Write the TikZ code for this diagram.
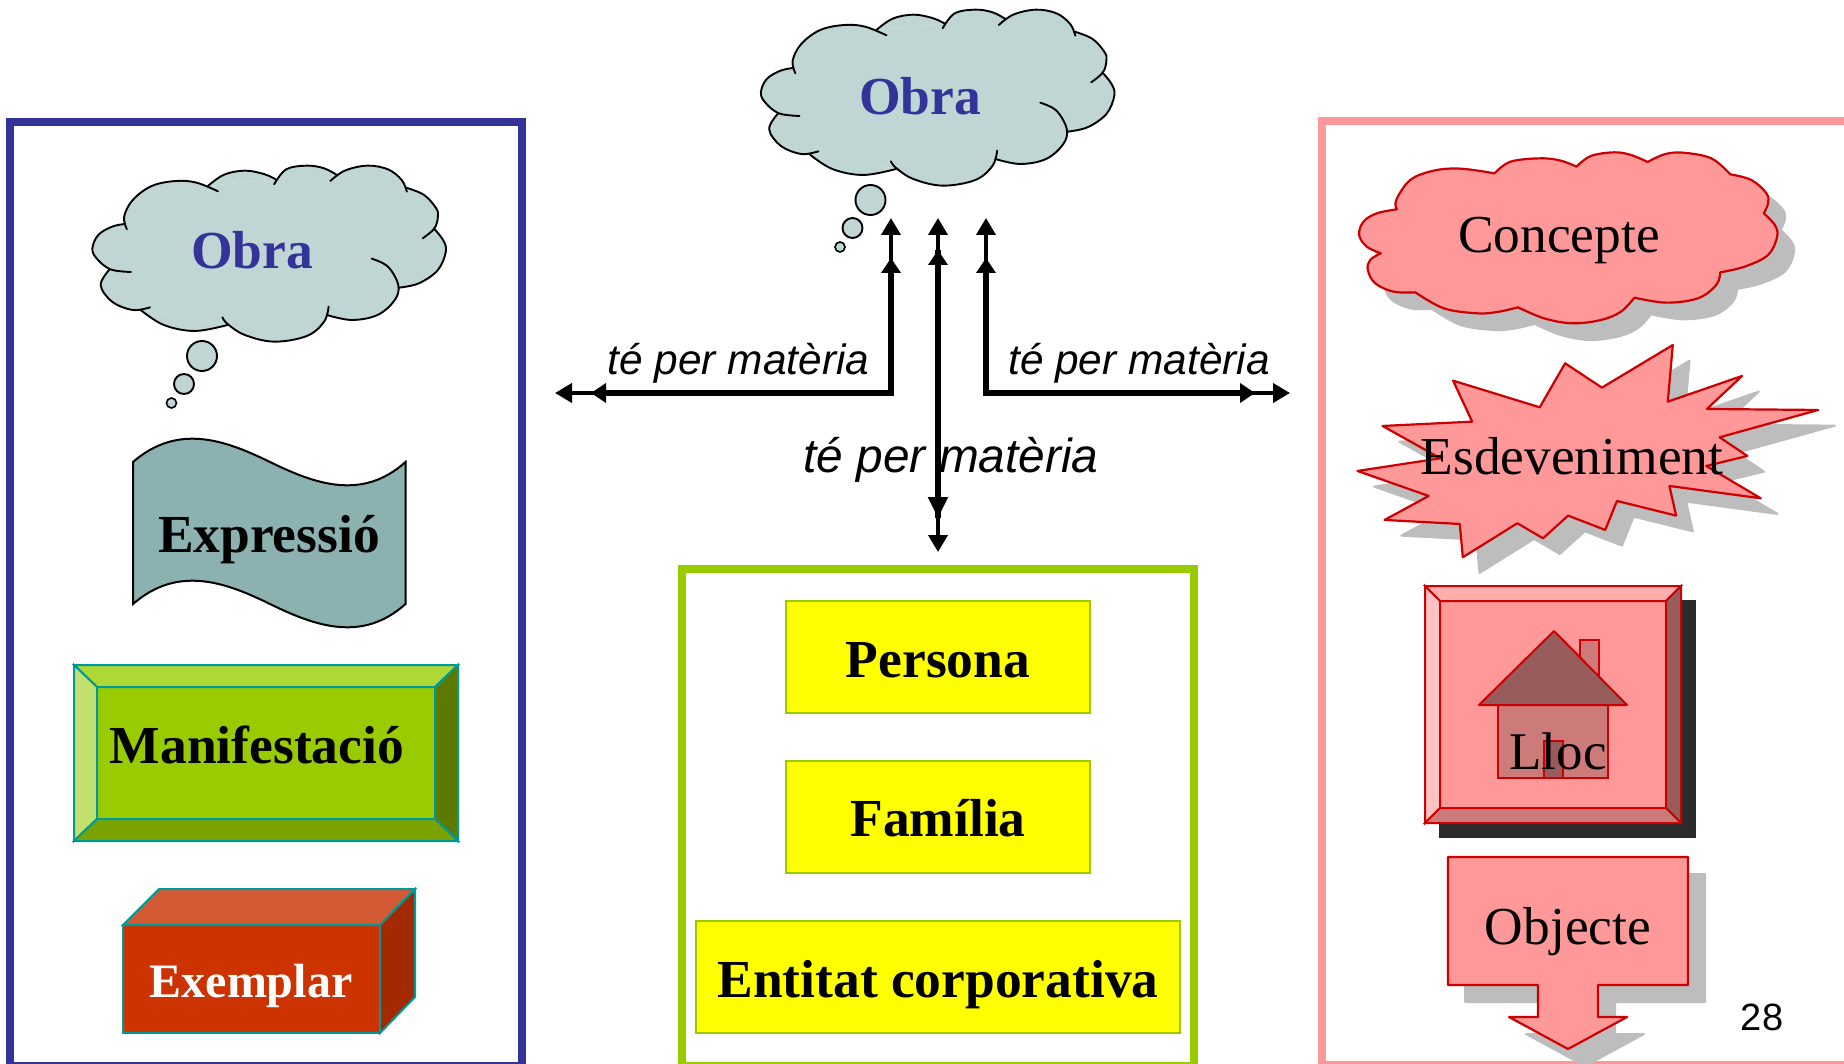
\documentclass[tikz,border=0pt]{standalone}
\usepackage{fontspec}
\setmainfont{Liberation Serif}
\newfontfamily\labelsans{Liberation Sans}
\usetikzlibrary{arrows.meta}
\definecolor{framblue}{HTML}{333399}
\definecolor{framgreen}{HTML}{99CC00}
\definecolor{framred}{HTML}{FF9999}
\definecolor{cloudblue}{HTML}{C0D6D4}
\definecolor{wavecol}{HTML}{8BB2B0}
\definecolor{tealline}{HTML}{009999}
\definecolor{redline}{HTML}{CC0000}
\definecolor{shadowgrey}{HTML}{BDBDBD}
\definecolor{boxyellow}{rgb}{1,1,0}
\tikzset{
  frame/.style={line width=8pt,miter limit=10},
  yellowbox/.style={fill=boxyellow,draw=framgreen,line width=2pt},
  lbl/.style={anchor=base,inner sep=0pt,outer sep=0pt},
  boldtxt/.style={lbl,font=\fontsize{53.5}{60}\selectfont\bfseries},
  plaintxt/.style={lbl,font=\fontsize{53.4}{60}\selectfont},
  relsmall/.style={lbl,font=\fontsize{42.4}{50}\selectfont\labelsans\itshape},
  rellarge/.style={lbl,font=\fontsize{47.8}{55}\selectfont\labelsans\itshape},
  tealface/.style={draw=tealline,line width=2pt,line join=miter},
  redface/.style={draw=redline,line width=2pt,line join=miter},
  redshape/.style={fill=framred,draw=redline,line width=2.2pt,line join=round},
  shadowshape/.style={fill=shadowgrey,draw=shadowgrey,line width=2pt,line join=round},
  thickarrow/.style={line width=5.2pt,-{Triangle[length=15pt,width=19pt]}},
  longhead/.style={line width=5.2pt,-{Triangle[length=21pt,width=19pt]}},
  thinarrow/.style={line width=3.8pt,-{Triangle[length=17pt,width=19pt]}},
}
\newcommand\lobefill[1]{\fill[cloudblue] plot[smooth,tension=.6] coordinates {#1};}
\newcommand\lobedraw[1]{\draw[black,line width=1.9pt,line cap=round] plot[smooth,tension=.6] coordinates {#1};}
\newcommand\obralobes[1]{%
  #1{(368,388) (360,350) (385,300) (440,258) (510,243) (570,248) (632,274)}
  #1{(603,258) (650,224) (710,212) (765,222) (800,238)}
  #1{(795,253) (830,208) (890,197) (940,205) (977,225)}
  #1{(958,243) (1000,212) (1065,197) (1125,208) (1165,240) (1180,275)}
  #1{(1178,263) (1230,285) (1265,325) (1270,350) (1260,385) (1226,415)}
  #1{(1258,385) (1285,420) (1293,455) (1270,510) (1215,550) (1157,563)}
  #1{(1078,476) (1125,500) (1155,555) (1145,600) (1095,645) (1020,660) (948,645)}
  #1{(953,620) (940,665) (890,708) (795,725) (710,705) (660,672) (645,652)}
  #1{(660,675) (565,693) (475,675) (408,630)}
  #1{(435,622) (385,630) (325,605) (292,555) (318,508)}
  #1{(380,516) (320,508) (280,475) (268,445) (285,405) (325,380) (362,372)}
}
\newcommand\obracloud{%
  \begin{scope}[shift={(0,100)},x=0.3448pt,y=-0.3333pt]
    \fill[cloudblue] (368,388) -- (603,258) -- (800,238) -- (975,225) -- (1178,263) -- (1260,385)
      -- (1157,563) -- (948,645) -- (660,675) -- (408,630) -- (318,508) -- (300,440) -- cycle;
    \obralobes{\lobefill}
    \obralobes{\lobedraw}
  \end{scope}
  \filldraw[fill=cloudblue,draw=black,line width=1.9pt] (202,356) circle (15pt);
  \filldraw[fill=cloudblue,draw=black,line width=1.9pt] (184,384) circle (10pt);
  \filldraw[fill=cloudblue,draw=black,line width=1.6pt] (171.5,403) circle (5pt);
}
\newcommand\conceptepath{%
  plot[smooth,tension=.6] coordinates {(230,298) (228,270) (270,210) (340,182) (420,176) (522,190)}
  -- plot[smooth,tension=.6] coordinates {(522,190) (570,155) (660,145) (720,152) (767,170)}
  -- plot[smooth,tension=.6] coordinates {(767,170) (810,138) (880,127) (930,135) (980,156)}
  -- plot[smooth,tension=.6] coordinates {(980,156) (1030,133) (1085,128) (1170,145) (1227,193)}
  -- plot[smooth,tension=.6] coordinates {(1227,193) (1290,210) (1335,250) (1340,280) (1327,310)}
  -- plot[smooth,tension=.6] coordinates {(1327,310) (1360,345) (1367,380) (1340,435) (1270,470) (1197,487)}
  -- plot[smooth,tension=.6] coordinates {(1197,487) (1185,525) (1130,565) (1035,578) (940,563)}
  -- plot[smooth,tension=.6] coordinates {(940,563) (900,605) (840,630) (755,640) (670,625) (592,592)}
  -- plot[smooth,tension=.6] coordinates {(592,592) (530,606) (470,610) (370,595) (285,547)}
  -- plot[smooth,tension=.6] coordinates {(285,547) (220,545) (165,520) (143,480) (150,450) (182,430)}
  -- plot[smooth,tension=.6] coordinates {(182,430) (140,410) (117,375) (130,335) (170,310) (230,298)}
  -- cycle}
\newcommand\starpath{%
  (1055,705) -- (1040,875) -- (1262,798) -- (1157,897) -- (1490,900) -- (1195,982) -- (1278,1038)
  -- (1155,1068) -- (1318,1165) -- (1045,1128) -- (1065,1217) -- (888,1173) -- (853,1260) -- (742,1217)
  -- (667,1285) -- (590,1240) -- (427,1342) -- (418,1242) -- (193,1230) -- (325,1158) -- (112,1083)
  -- (360,1045) -- (187,948) -- (455,935) -- (398,812) -- (657,892) -- (733,760) -- (843,833) -- cycle}
\newcommand\objectepath{%
  (1448,857) -- (1688,857) -- (1688,985) -- (1598,985) -- (1598,1017) -- (1627,1017) -- (1568,1049)
  -- (1509,1017) -- (1538,1017) -- (1538,985) -- (1448,985) -- cycle}
\begin{document}
\begin{tikzpicture}[x=1pt,y=-1pt]
\useasboundingbox (0,0) rectangle (1844,1064);
\clip (0,0) rectangle (1844,1064);
\fill[white] (0,0) rectangle (1844,1064);
% frames
\draw[frame,framblue] (10,122) rectangle (522,1066);
\draw[frame,framgreen] (682,569) rectangle (1194,1066);
\draw[frame,framred] (1322,121) rectangle (1900,1065);
% clouds Obra
\begin{scope}
  \obracloud
\end{scope}
\begin{scope}[shift={(668.5,-156)}]
  \obracloud
\end{scope}
\node[boldtxt,text=framblue] (obraleft) at (252,269) {Obra};
\node[boldtxt,text=framblue] (obracentre) at (920,115) {Obra};
% Expressio
\filldraw[fill=wavecol,draw=black,line width=2pt]
  (133,462) .. controls (178,423) and (225,440) .. (270,462) .. controls (315,484) and (362,501) .. (405.5,462)
  -- (405.5,604) .. controls (362,643) and (315,626) .. (270,604) .. controls (225,582) and (178,565) .. (133,604) -- cycle;
\node[boldtxt] (expressio) at (269,552) {Expressió};
% Manifestacio
\filldraw[tealface,fill=framgreen] (97,687) rectangle (435,819);
\filldraw[tealface,fill={rgb,255:red,173;green,216;blue,53}] (74,665) -- (458,665) -- (435,687) -- (97,687) -- cycle;
\filldraw[tealface,fill={rgb,255:red,194;green,224;blue,107}] (74,665) -- (97,687) -- (97,819) -- (74,841) -- cycle;
\filldraw[tealface,fill={rgb,255:red,92;green,122;blue,0}] (458,665) -- (435,687) -- (435,819) -- (458,841) -- cycle;
\filldraw[tealface,fill={rgb,255:red,122;green,163;blue,0}] (74,841) -- (97,819) -- (435,819) -- (458,841) -- cycle;
\node[boldtxt] (manifestacio) at (257,763) {Manifestació};
% Exemplar
\filldraw[tealface,fill={rgb,255:red,204;green,51;blue,0}] (123,925) rectangle (380,1033);
\filldraw[tealface,fill={rgb,255:red,212;green,90;blue,51}] (123,925) -- (159,889) -- (415,889) -- (380,925) -- cycle;
\filldraw[tealface,fill={rgb,255:red,163;green,41;blue,0}] (380,925) -- (415,889) -- (415,997) -- (380,1033) -- cycle;
\node[lbl,text=white,font=\fontsize{48}{56}\selectfont\bfseries] (exemplar) at (251,997) {Exemplar};
% yellow boxes
\draw[yellowbox] (786,601) rectangle (1090,713);
\draw[yellowbox] (786,761) rectangle (1090,873);
\draw[yellowbox] (696,921) rectangle (1180,1033);
\node[boldtxt] (persona) at (938,677) {Persona};
\node[boldtxt] (familia) at (938,836) {Família};
\node[boldtxt] (entitat) at (938,997) {Entitat corporativa};
% arrows
\coordinate (cornerL) at (891,393);
\coordinate (cornerR) at (986,393);
\coordinate (upLa) at (891,218);
\coordinate (upLb) at (891,258);
\coordinate (upCa) at (938,218);
\coordinate (upCb) at (938,250);
\coordinate (upRa) at (986,218);
\coordinate (upRb) at (986,258);
\coordinate (leftA) at (555,393);
\coordinate (leftB) at (591,393);
\coordinate (rightA) at (1290,393);
\coordinate (rightB) at (1255,393);
\coordinate (downA) at (938,552);
\coordinate (downB) at (938,518);
\draw[thinarrow] (cornerL) -- (upLa);
\draw[thinarrow] (cornerL) -- (leftA);
\draw[thinarrow] (cornerR) -- (upRa);
\draw[thinarrow] (cornerR) -- (rightA);
\draw[thinarrow] (downB) -- (upCa);
\draw[thinarrow] (upCb) -- (downA);
\draw[thickarrow] (cornerL) -- (upLb);
\draw[thickarrow] (cornerL) -- (leftB);
\draw[thickarrow] (cornerR) -- (upRb);
\draw[thickarrow] (cornerR) -- (rightB);
\draw[thickarrow] (downB) -- (upCb);
\draw[longhead] (upCb) -- (downB);
\fill[black] (888.4,390.4) rectangle (893.6,395.6);
\fill[black] (983.4,390.4) rectangle (988.6,395.6);
\node[relsmall] (relL) at (738.5,374) {té per matèria};
\node[relsmall] (relR) at (1139,374) {té per matèria};
\node[rellarge] (relC) at (951,472) {té per matèria};
% Concepte and Esdeveniment
\begin{scope}[shift={(1320,110)},x=0.3344pt,y=-0.3333pt]
  \begin{scope}[shift={(50,50)}]
    \path[shadowshape] \conceptepath;
  \end{scope}
  \path[redshape] \conceptepath;
  \begin{scope}[shift={(50,47)}]
    \path[shadowshape] \starpath;
  \end{scope}
  \path[redshape] \starpath;
\end{scope}
\node[plaintxt] (concepte) at (1559,253) {Concepte};
\node[plaintxt] (esdeveniment) at (1572,474) {Esdeveniment};
% Lloc
\fill[black!83] (1439,600) rectangle (1696,838);
\filldraw[redface,fill=framred] (1440,601) rectangle (1666,808);
\filldraw[redface,fill={rgb,255:red,255;green,173;blue,173}] (1425,586) -- (1681,586) -- (1666,601) -- (1440,601) -- cycle;
\filldraw[redface,fill={rgb,255:red,255;green,194;blue,194}] (1425,586) -- (1440,601) -- (1440,808) -- (1425,823) -- cycle;
\filldraw[redface,fill={rgb,255:red,153;green,92;blue,92}] (1681,586) -- (1666,601) -- (1666,808) -- (1681,823) -- cycle;
\filldraw[redface,fill={rgb,255:red,204;green,122;blue,122}] (1425,823) -- (1440,808) -- (1666,808) -- (1681,823) -- cycle;
\filldraw[redface,fill={rgb,255:red,204;green,122;blue,122}] (1580,640) rectangle (1599,680);
\filldraw[redface,fill={rgb,255:red,204;green,122;blue,122}] (1498,705) rectangle (1608,778);
\filldraw[redface,fill={rgb,255:red,153;green,92;blue,92}] (1544,741) rectangle (1563,778);
\filldraw[redface,fill={rgb,255:red,153;green,92;blue,92},line join=round] (1554,631) -- (1627,705) -- (1479,705) -- cycle;
\node[lbl,font=\fontsize{53}{60}\selectfont] (lloc) at (1558,769) {Lloc};
% Objecte
\begin{scope}[shift={(17,17)}]
  \path[shadowshape] \objectepath;
\end{scope}
\path[redshape] \objectepath;
\node[plaintxt] (objecte) at (1568,944) {Objecte};
\node[lbl,font=\fontsize{38}{44}\selectfont\labelsans] (pagenum) at (1762,1030) {28};
\end{tikzpicture}
\end{document}
